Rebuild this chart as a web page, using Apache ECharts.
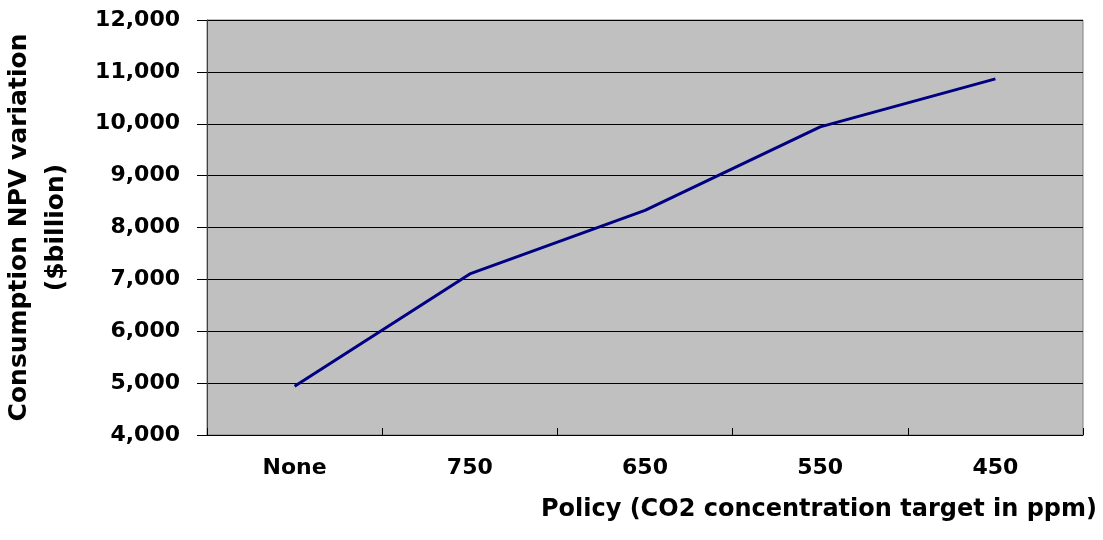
<!DOCTYPE html>
<html>
<head>
<meta charset="utf-8">
<script src="https://cdn.jsdelivr.net/npm/echarts@6/dist/echarts.min.js"></script>
<style>
  html, body { margin: 0; padding: 0; background: #ffffff; }
  #chart { width: 1103px; height: 540px; }
</style>
</head>
<body>
<div id="chart"></div>
<script>
// Policy scenarios (CO2 concentration target, ppm)
const policies = ['None', '750', '650', '550', '450'];
// Consumption NPV variation, $billion
const npvVariation = [4940, 7105, 8330, 9940, 10865];
// Value axis range
const yMin = 4000;
const yMax = 12000;
const yStep = 1000;

const fontFamily = '"DejaVu Sans", "Liberation Sans", Arial, sans-serif';

const chart = echarts.init(document.getElementById('chart'));
chart.setOption({
  backgroundColor: '#ffffff',
  animation: false,
  grid: {
    left: 207,
    right: 20,
    top: 20,
    bottom: 105,
    outerBoundsMode: 'none',
    containLabel: false,
    show: true,
    backgroundColor: '#c0c0c0',
    borderColor: '#808080',
    borderWidth: 1
  },
  xAxis: {
    type: 'category',
    data: policies,
    boundaryGap: true,
    name: 'Policy (CO2 concentration target in ppm)',
    nameLocation: 'end',
    nameGap: 14,
    nameTextStyle: {
      fontFamily: fontFamily,
      fontWeight: 'bold',
      fontSize: 24,
      color: '#000000',
      align: 'right',
      verticalAlign: 'top',
      padding: [63, 0, 0, 0]
    },
    axisLine: { show: true, lineStyle: { color: '#000000', width: 1 } },
    axisTick: { show: true, inside: true, length: 7, lineStyle: { color: '#000000' } },
    axisLabel: {
      fontFamily: fontFamily,
      fontWeight: 'bold',
      fontSize: 22,
      color: '#000000',
      margin: 22
    },
    splitLine: { show: false }
  },
  yAxis: {
    type: 'value',
    min: yMin,
    max: yMax,
    interval: yStep,
    name: 'Consumption NPV variation\n($billion)',
    nameLocation: 'middle',
    nameRotate: 90,
    nameGap: 132,
    nameTextStyle: {
      fontFamily: fontFamily,
      fontWeight: 'bold',
      fontSize: 25,
      lineHeight: 37,
      color: '#000000',
      align: 'center'
    },
    axisLine: { show: true, lineStyle: { color: '#404040', width: 1 } },
    axisTick: { show: true, inside: false, length: 10, lineStyle: { color: '#000000' } },
    axisLabel: {
      fontFamily: fontFamily,
      fontWeight: 'bold',
      fontSize: 22,
      color: '#000000',
      margin: 27,
      formatter: function (v) { return v.toLocaleString('en-US'); }
    },
    splitLine: { show: true, lineStyle: { color: '#000000', width: 1 } }
  },
  series: [{
    type: 'line',
    data: npvVariation,
    symbol: 'none',
    lineStyle: { color: '#000080', width: 3 },
    z: 3
  }]
});
</script>
</body>
</html>
